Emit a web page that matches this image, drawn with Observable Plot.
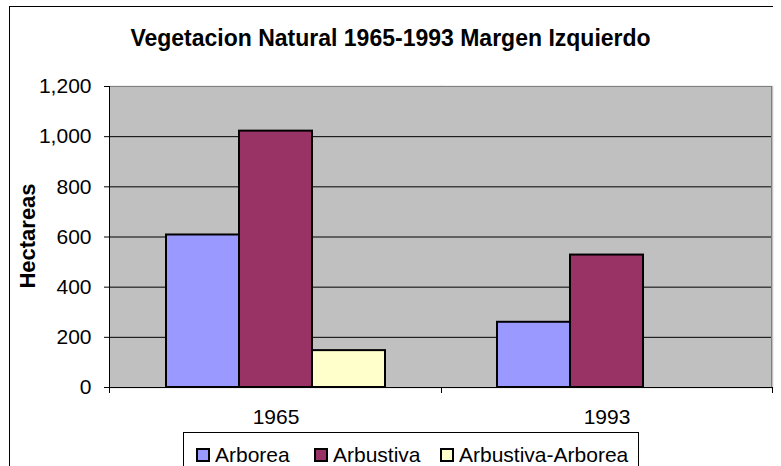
<!DOCTYPE html>
<html><head><meta charset="utf-8">
<script src="https://cdn.jsdelivr.net/npm/d3@7"></script>
<script src="https://cdn.jsdelivr.net/npm/@observablehq/plot@0.6"></script>
<style>
body{margin:0;background:#fff}
#chart{position:relative;width:781px;height:466px;overflow:hidden;font-family:"Liberation Sans",Arial,sans-serif;color:#000;background:#fff}
#border{position:absolute;left:9px;top:6px;width:764px;height:520px;border-left:1px solid #000;border-top:1px solid #000;box-sizing:border-box}
#title{position:absolute;left:0;width:781px;top:27px;text-align:center;font-weight:bold;font-size:23px;line-height:23px;white-space:nowrap}
#ylabel{position:absolute;left:28px;top:236px;transform:translate(-50%,-50%) rotate(-90deg);font-weight:bold;font-size:22px;line-height:22px;white-space:nowrap}
#plotwrap{position:absolute;left:0;top:0}
#legend{position:absolute;left:183px;top:432px;width:456px;height:60px;border:1px solid #000;box-sizing:border-box;background:#fff}
.item{position:absolute;top:11px;display:flex;align-items:center;font-size:21px;line-height:21px;white-space:nowrap}
.sw{width:10px;height:10px;border:2px solid #000;margin-right:5px;display:inline-block}
</style></head>
<body>
<div id="chart">
  <div id="border"></div>
  <div id="title"></div>
  <div id="plotwrap"></div>
  <div id="ylabel"></div>
  <div id="legend"></div>
</div>
<script>
const years = ["1965", "1993"];
const series = ["Arborea", "Arbustiva", "Arbustiva-Arborea"];
const arborea = [608, 260];
const arbustiva = [1022, 528];
const arbustivaArborea = [147, null];
const yTicks = [0, 200, 400, 600, 800, 1000, 1200];
const colors = ["#9999FF", "#993366", "#FFFFCC"];
const titleText = "Vegetacion Natural 1965-1993 Margen Izquierdo";
const yLabelText = "Hectareas";

const valuesBySeries = [arborea, arbustiva, arbustivaArborea];
const rows = [];
years.forEach((yr, i) => series.forEach((s, j) => {
  const v = valuesBySeries[j][i];
  if (v != null) rows.push({year: yr, series: s, value: v});
}));

document.getElementById("title").textContent = titleText;
document.getElementById("ylabel").textContent = yLabelText;

const plot = Plot.plot({
  width: 781, height: 466,
  marginLeft: 109, marginRight: 9, marginTop: 86, marginBottom: 79,
  style: {fontFamily: "'Liberation Sans', Arial, sans-serif", fontSize: "21px", background: "transparent", color: "#000", overflow: "visible"},
  fx: {domain: years, padding: 0, axis: "bottom", tickSize: 0, tickPadding: 22, label: null},
  x: {domain: series, paddingInner: 0, paddingOuter: 0.75, axis: null},
  y: {domain: [0, 1200], ticks: yTicks, tickFormat: d3.format(","), tickSize: 6, tickPadding: 13, label: null},
  color: {domain: series, range: colors},
  marks: [
    Plot.frame({fill: "#c0c0c0", stroke: "#c0c0c0", strokeWidth: 1.5}),
    Plot.ruleY(yTicks.slice(1, -1), {stroke: "#000", strokeWidth: 1}),
    Plot.ruleY([yTicks[yTicks.length - 1]], {stroke: "#808080", strokeWidth: 1}),
    Plot.ruleY([0], {stroke: "#000", strokeWidth: 1}),
    Plot.barY(rows, {fx: "year", x: "series", y: "value", fill: "series", stroke: "#000", strokeWidth: 2})
  ]
});
document.getElementById("plotwrap").appendChild(plot);

// axis lines and category-boundary ticks, placed from the library's scales
const fxS = plot.scale("fx"), yS = plot.scale("y");
const left = fxS.range[0], right = fxS.range[1];
const yb = yS.apply(0), yt = yS.apply(yTicks[yTicks.length - 1]);
const svg = d3.select(plot);
const g = svg.append("g");
g.append("line").attr("x1", right - 0.5).attr("x2", right - 0.5).attr("y1", yt).attr("y2", yb).attr("stroke", "#808080");
g.append("line").attr("x1", left + 0.5).attr("x2", left + 0.5).attr("y1", yt).attr("y2", yb + 6).attr("stroke", "#000");
const bounds = [left, ...years.slice(1).map(y => fxS.apply(y)), right];
bounds.forEach(b => {
  const xx = Math.round(b) + 0.5;
  g.append("line").attr("x1", xx).attr("x2", xx).attr("y1", yb).attr("y2", yb + 6).attr("stroke", "#000");
});

// legend
const legendPos = [12, 130, 256];
const legend = document.getElementById("legend");
series.forEach((s, i) => {
  const it = document.createElement("div");
  it.className = "item";
  it.style.left = legendPos[i] + "px";
  const sw = document.createElement("span");
  sw.className = "sw";
  sw.style.background = colors[i];
  it.appendChild(sw);
  it.appendChild(document.createTextNode(s));
  legend.appendChild(it);
});
</script>
</body></html>
